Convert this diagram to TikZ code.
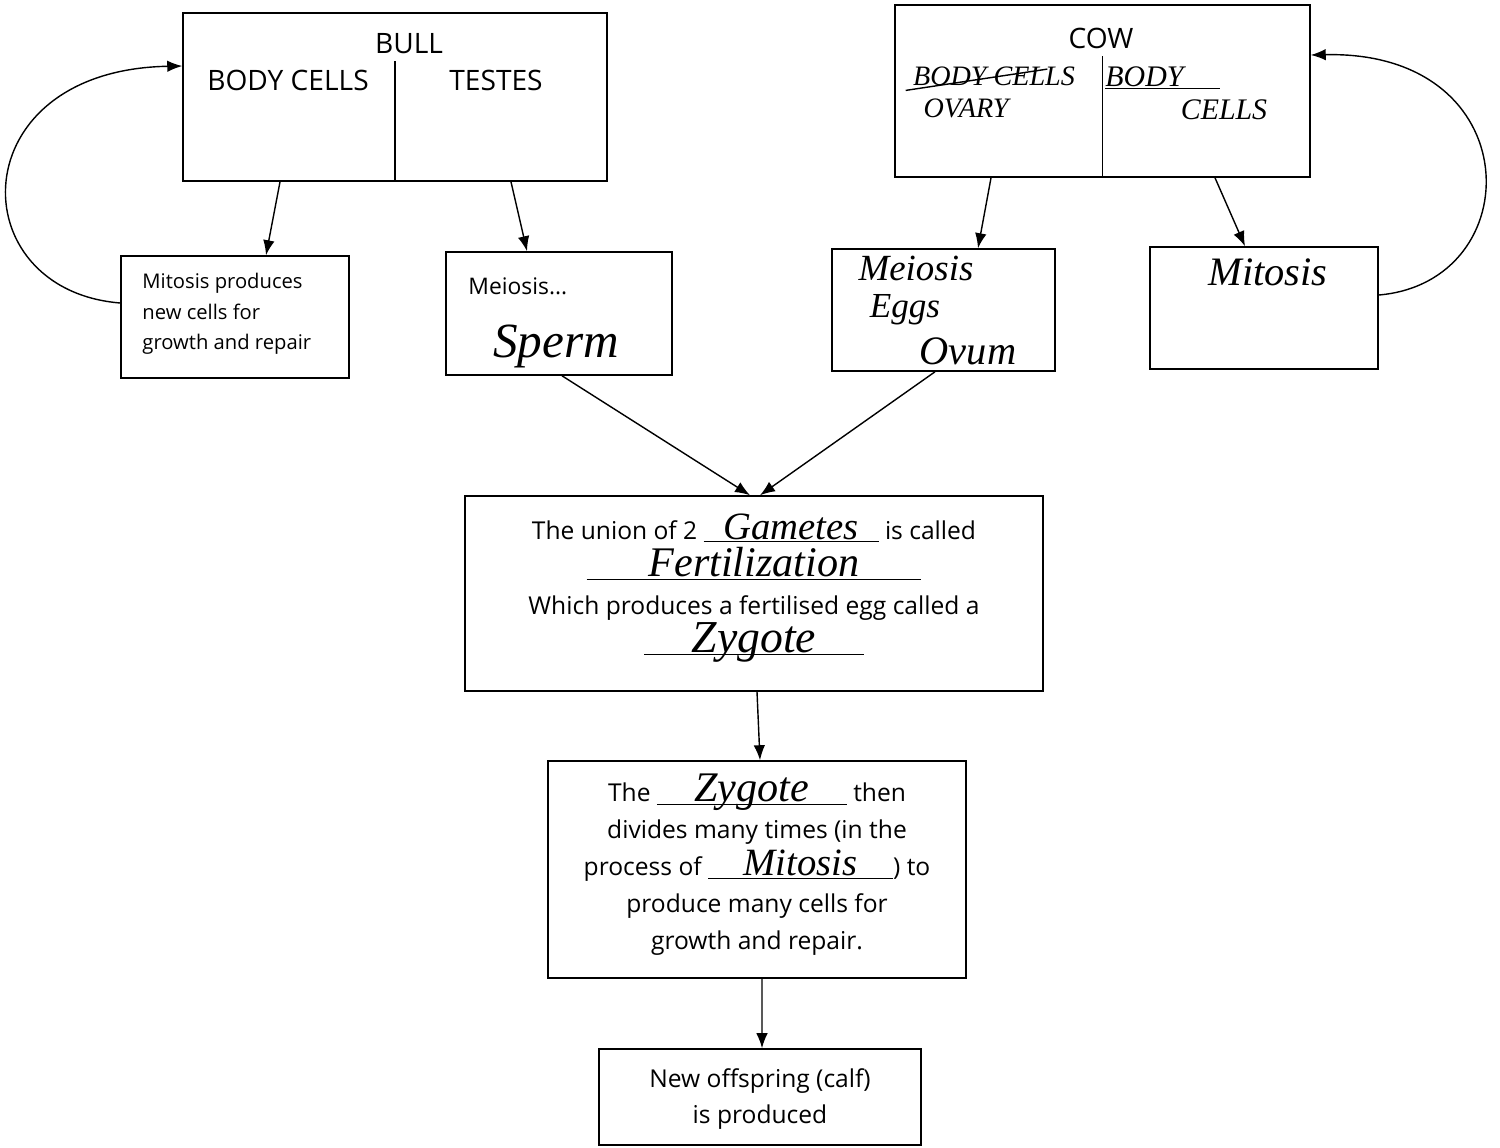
\documentclass[tikz,border=0pt]{standalone}
\usepackage{fontspec}
\setmainfont{Open Sans}
\newfontfamily\hand{Liberation Serif}
\usetikzlibrary{arrows.meta}
\newcommand{\hw}[2]{{\hand\itshape\fontsize{#1}{#1}\selectfont #2}}
\newcommand{\fillin}[3]{\underline{\makebox[#1]{\smash{\hw{#2}{#3}}}}}

\begin{document}
\begin{tikzpicture}[x=0.02cm, y=-0.02cm,
  box/.style={draw, line width=0.9pt, inner sep=0pt},
  txt/.style={inner sep=1pt, align=center},
  >={Latex[length=3mm,width=2.3mm]}, every path/.style={line width=0.8pt}]

\useasboundingbox (0,0) rectangle (1500,1147);

% bull
\node[box, minimum width=8.48cm, minimum height=3.36cm](bull) at (395,97){};
\draw (bull.south) -- ++(0,2.42cm);
\node[txt, font=\fontsize{16}{18}\selectfont](bulltitle) at (409,44){BULL};
\node[txt, font=\fontsize{16}{18}\selectfont](bullbody) at (288,80){BODY CELLS};
\node[txt, font=\fontsize{16}{18}\selectfont](bulltestes) at (496,80){TESTES};

% cow
\node[box, minimum width=8.3cm, minimum height=3.44cm](cow) at (1102.5,91){};
\draw (cow.south) -- ++(0,2.44cm);
\node[txt, font=\fontsize{16}{18}\selectfont](cowtitle) at (1101,38){COW};
\node[txt](cowbody) at (994,76){\hw{16}{BODY CELLS}};
\draw ([xshift=-0.1cm,yshift=-0.05cm]cowbody.south west) -- ([xshift=-0.6cm,yshift=-0.1cm]cowbody.north east);
\node[txt](cowovary) at (966,108){\hw{16}{OVARY}};
\node[txt, anchor=base west](cowbody2) at (1103,86){\underline{\makebox[2.3cm][l]{\hw{17}{BODY}}}};
\node[txt](cowcells) at (1224,110){\hw{17}{CELLS}};

% second row
\node[box, minimum width=4.56cm, minimum height=2.44cm](mitl) at (235,317){};
\node[txt, anchor=west, align=left, font=\fontsize{11.5}{17.3}\selectfont](mitltxt) at (140,314){Mitosis produces\\new cells for\\growth and repair};

\node[box, minimum width=4.52cm, minimum height=2.46cm](meil) at (559,313.5){};
\node[txt, anchor=west, font=\fontsize{13}{15}\selectfont](meiltxt) at (466,286){Meiosis...};
\node[txt](sperm) at (556,346){\hw{28}{Sperm}};

\node[box, minimum width=4.46cm, minimum height=2.44cm](meir) at (943.5,310){};
\node[txt, inner sep=0pt](meirtxt) at (916,268){\hw{21}{Meiosis}};
\node[txt, inner sep=0pt](eggs) at (905,310){\hw{20}{Eggs}};
\node[txt, inner sep=0pt](ovum) at (968,351){\hw{23}{Ovum}};

\node[box, minimum width=4.56cm, minimum height=2.44cm](mitr) at (1264,308){};
\node[txt](mitrtxt) at (1268,272){\hw{23}{Mitosis}};

% fertilisation
\node[box, minimum width=11.56cm, minimum height=3.9cm](fert) at (754,593.5){};
\node[txt, font=\fontsize{14}{21.5}\selectfont](ferttxt) at (754,588){The union of 2 \fillin{3.5cm}{22}{Gametes} is called\\
  \fillin{6.7cm}{24}{Fertilization}\\
  Which produces a fertilised egg called a\\
  \fillin{4.4cm}{26}{Zygote}};

% zygote
\node[box, minimum width=8.36cm, minimum height=4.34cm](zyg) at (757,869.5){};
\node[txt, font=\fontsize{14}{21}\selectfont](zygtxt) at (757,869){The \fillin{3.8cm}{24}{Zygote} then\\
  divides many times (in the\\
  process of \fillin{3.7cm}{22}{Mitosis}) to\\
  produce many cells for\\
  growth and repair.};

% offspring
\node[box, minimum width=6.44cm, minimum height=1.92cm](calf) at (760,1097){};
\node[txt, font=\fontsize{14}{20.5}\selectfont](calftxt) at (760,1099){New offspring (calf)\\is produced};

% arrows
\draw[->] ([xshift=-2.3cm]bull.south) -- ([xshift=0.62cm]mitl.north);
\draw[->] ([xshift=2.32cm]bull.south) -- ([xshift=-0.64cm]meil.north);
\draw[->] ([xshift=-2.23cm]cow.south) -- ([xshift=0.69cm]meir.north);
\draw[->] ([xshift=2.25cm]cow.south) -- ([xshift=-0.38cm]mitr.north);
\draw[->] ([xshift=0.06cm]meil.south) -- ([xshift=-0.08cm]fert.north);
\draw[->] ([xshift=-0.17cm]meir.south) -- ([xshift=0.12cm]fert.north);
\draw[->] ([xshift=0.06cm]fert.south) -- ([xshift=0.06cm]zyg.north);
\draw[->] ([xshift=0.1cm]zyg.south) -- ([xshift=0.04cm]calf.north);

% loops back to the body cells
\draw[->] ([yshift=0.28cm]mitl.west) .. controls (-40,290) and (-40,70) .. ([yshift=0.62cm]bull.west);
\draw[->] ([yshift=0.26cm]mitr.east) .. controls (1530,282) and (1530,50) .. ([yshift=0.72cm]cow.east);

\end{tikzpicture}
\end{document}
